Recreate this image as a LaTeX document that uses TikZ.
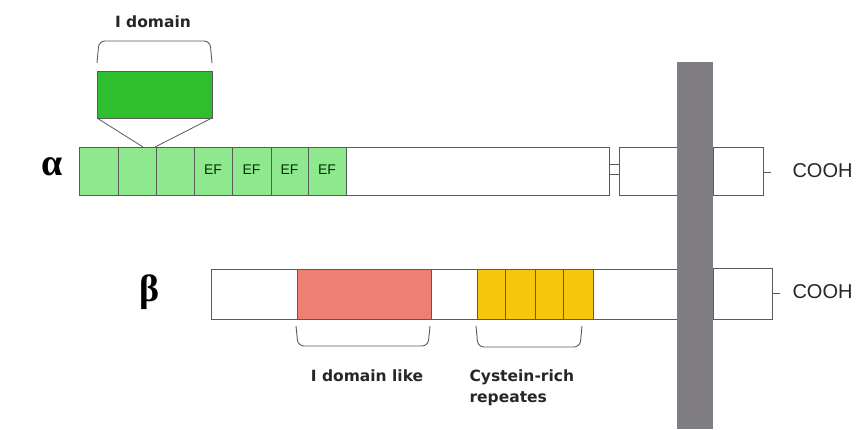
\documentclass[tikz,border=0pt]{standalone}
\usepackage{fontspec}
\setmainfont{Liberation Sans}
\newfontfamily\labelfont{DejaVu Sans}
\newfontfamily\greekfont{Liberation Serif}
\definecolor{lightgrn}{RGB}{142,232,142}
\definecolor{darkgrn}{RGB}{46,190,46}
\definecolor{salmon}{RGB}{238,128,115}
\definecolor{gold}{RGB}{245,198,10}
\definecolor{membrane}{RGB}{128,126,131}
\definecolor{edge}{RGB}{90,90,90}
\tikzset{
  brace/.style={draw=edge, line width=0.9pt, rounded corners=6pt},
  lbl/.style={font=\labelfont\bfseries\fontsize{15.5}{21}\selectfont, text=black!85},
  cooh/.style={font=\fontsize{20}{22}\selectfont, text=black!85, anchor=west},
  ef/.style={font=\fontsize{14}{16}\selectfont, text=black!65!green!55!black},
  greek/.style={font=\greekfont\bfseries\fontsize{38}{40}\selectfont}
}
\begin{document}
\begin{tikzpicture}[x=1pt, y=-1pt]
\useasboundingbox (0,0) rectangle (863,429);

% ---------- alpha chain ----------
\node[greek] (alpha) at (52,167) {α};
% green N-terminal segments and EF hands
\foreach \xa/\xb in {79/118,118/156,156/194} {
  \filldraw[fill=lightgrn, draw=edge, line width=0.8pt] (\xa,147) rectangle (\xb,195);
}
\foreach \xa/\xb [count=\i] in {194/232,232/271,271/308,308/346} {
  \filldraw[fill=lightgrn, draw=edge, line width=0.8pt] (\xa,147) rectangle (\xb,195);
  \node[ef] (ef\i) at ({(\xa+\xb)/2},170) {EF};
}
% remaining extracellular part
\draw[draw=edge, line width=0.8pt] (346,147) rectangle (609,195);
\draw[draw=edge, line width=0.8pt] (619,147) rectangle (677,195);
\coordinate (aL1) at (609,164); \coordinate (aR1) at (619,164);
\coordinate (aL2) at (609,174); \coordinate (aR2) at (619,174);
\draw[edge, line width=0.8pt] (aL1) -- (aR1);
\draw[edge, line width=0.8pt] (aL2) -- (aR2);
% cytoplasmic tail
\draw[draw=edge, line width=0.8pt] (713,147) rectangle (763,195);
\coordinate (atail) at (763,172);
\coordinate (atailend) at (771,172);
\draw[edge, line width=0.8pt] (atail) -- (atailend);
\node[cooh] (coohA) at (789,171) {COOH};

% inserted I domain
\filldraw[fill=darkgrn, draw=edge, line width=0.8pt] (97,71) rectangle (212,118);
\coordinate (idBL) at (97,118); \coordinate (idBR) at (212,118);
\coordinate (idL) at (143,147); \coordinate (idR) at (155,147);
\draw[edge, line width=0.8pt] (idBL) -- (idL);
\draw[edge, line width=0.8pt] (idBR) -- (idR);
\draw[brace] (97,63) -- (99,41) -- (210,41) -- (212,63);
\node[lbl] (idomain) at (153,22) {I domain};

% ---------- beta chain ----------
\node[greek] (beta) at (150,292) {β};
\draw[draw=edge, line width=0.8pt] (211,269) rectangle (677,319);
\filldraw[fill=salmon, draw=edge, line width=0.8pt] (297,269) rectangle (431,319);
\foreach \xa/\xb in {477/505,505/535,535/563,563/593} {
  \filldraw[fill=gold, draw=edge, line width=0.8pt] (\xa,269) rectangle (\xb,319);
}
\draw[draw=edge, line width=0.8pt] (713,268) rectangle (772,319);
\coordinate (btail) at (772,293);
\coordinate (btailend) at (780,293);
\draw[edge, line width=0.8pt] (btail) -- (btailend);
\node[cooh] (coohB) at (789,292) {COOH};

% braces and labels under the beta chain
\draw[brace] (296,326) -- (298,346) -- (428,346) -- (430,326);
\draw[brace] (476,326) -- (478,347) -- (580,347) -- (582,326);
\node[lbl] (idlike) at (367,376) {I domain like};
\node[lbl, anchor=west, align=left] (cys) at (466,388) {Cystein-rich\\repeates};

% ---------- membrane ----------
\fill[membrane] (677,62) rectangle (713,429);
\end{tikzpicture}
\end{document}
